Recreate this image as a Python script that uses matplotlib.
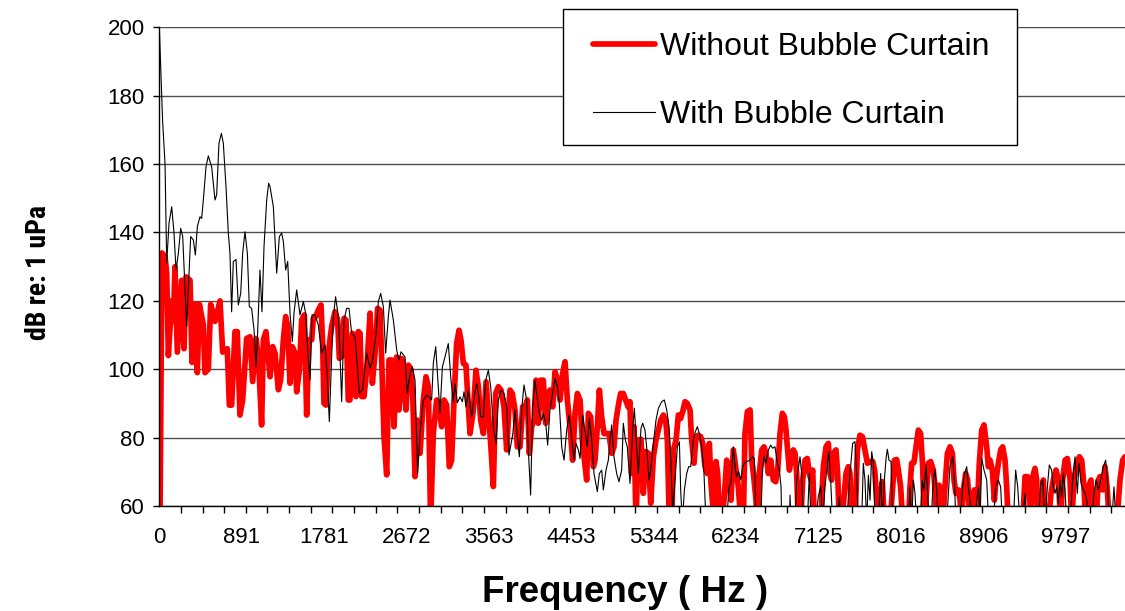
import numpy as np
import matplotlib
matplotlib.use("Agg")
import matplotlib.pyplot as plt
from matplotlib.ticker import MultipleLocator, FixedLocator
from matplotlib.patches import Rectangle

plt.rcParams['font.family'] = ['Liberation Sans', 'DejaVu Sans']

# ---------------- data ----------------
freq_without = [0, 29, 62, 80, 98, 134, 152, 170, 195, 242, 267, 289, 332, 354, 386, 411, 433, 476, 494, 530,
    555, 602, 656, 685, 735, 757, 782, 818, 843, 872, 901, 944, 980, 1009, 1045, 1071, 1106, 1125, 1153,
    1197, 1226, 1251, 1287, 1312, 1341, 1366, 1388, 1413, 1438, 1467, 1485, 1514, 1539, 1568, 1593, 1618,
    1647, 1665, 1690, 1719, 1748, 1766, 1780, 1802, 1827, 1863, 1899, 1928, 1946, 1971, 1997, 2018, 2043,
    2061, 2087, 2108, 2126, 2152, 2170, 2188, 2213, 2242, 2278, 2303, 2332, 2360, 2386, 2404, 2429, 2458,
    2483, 2512, 2537, 2566, 2591, 2620, 2645, 2667, 2692, 2717, 2739, 2764, 2789, 2818, 2854, 2883, 2908,
    2933, 2962, 2998, 3027, 3052, 3078, 3106, 3135, 3160, 3186, 3214, 3240, 3261, 3287, 3315, 3341, 3359,
    3395, 3423, 3449, 3474, 3503, 3532, 3557, 3582, 3611, 3636, 3665, 3694, 3726, 3755, 3780, 3791, 3816,
    3845, 3870, 3899, 3928, 3953, 3979, 4000, 4025, 4051, 4072, 4097, 4123, 4151, 4177, 4202, 4223, 4252,
    4278, 4303, 4332, 4360, 4386, 4411, 4440, 4468, 4494, 4519, 4548, 4573, 4591, 4620, 4638, 4663, 4692,
    4710, 4735, 4757, 4782, 4807, 4836, 4861, 4890, 4915, 4937, 4966, 4987, 5016, 5041, 5067,
    5088, 5106, 5132, 5153, 5178, 5207, 5232, 5261, 5286, 5312, 5341, 5369, 5395, 5420, 5449, 5474, 5492,
    5513, 5539, 5557, 5586, 5611, 5636, 5658, 5683, 5708, 5737, 5755, 5780, 5802, 5827, 5852, 5874, 5899,
    5924, 5946, 5964, 5989, 6018, 6036, 6054, 6079, 6108, 6133, 6158, 6180, 6205, 6234, 6259, 6288, 6313,
    6331, 6357, 6386, 6404, 6422, 6447, 6465, 6486, 6512, 6537, 6558, 6584, 6609, 6638, 6663, 6685, 6710,
    6735, 6757, 6775, 6789, 6811, 6836, 6854, 6872, 6890, 6908, 6933, 6955, 6980, 7005, 7027, 7045, 7063,
    7081, 7149, 7178, 7207, 7232, 7250, 7268, 7286, 7315, 7333, 7351, 7376, 7402, 7423, 7448, 7466, 7484,
    7520, 7546, 7574, 7600, 7628, 7654, 7683, 7712, 7733, 7748, 7773, 7798, 7816, 7838, 7899, 7928, 7946,
    7971, 7989, 8014, 8036, 8097, 8115, 8133, 8158, 8180, 8205, 8230, 8252, 8270, 8295, 8313, 8338, 8367,
    8385, 8403, 8428, 8450, 8468, 8493, 8519, 8547, 8573, 8591, 8612, 8637, 8656, 8673, 8692, 8717, 8738,
    8764, 8789, 8810, 8836, 8864, 8890, 8915, 8944, 8962, 8980, 9005, 9027, 9045, 9070, 9095, 9117, 9142,
    9160, 9178, 9333, 9358, 9383, 9405, 9423, 9441, 9466, 9484, 9502, 9538, 9556, 9574, 9610, 9639, 9664,
    9693, 9719, 9744, 9765, 9791, 9816, 9845, 9863, 9888, 9917, 9946, 9971, 9996, 10014, 10043, 10072,
    10097, 10126, 10151, 10169, 10198, 10223, 10248, 10270, 10349, 10385, 10414, 10439]
db_without = [30, 134, 133, 128, 104, 120, 114, 130, 105, 126, 106, 127, 126, 102, 119, 99, 119, 113, 99, 100,
    119, 114, 120, 105, 106, 89.5, 89.5, 111, 111, 86.6, 91, 109, 109.5, 96.4, 109, 103.7, 83.7, 108.6, 111,
    97.8, 106.6, 104.7, 94, 96.9, 108.6, 115.4, 112.5, 95.9, 106.6, 104.7, 93.4, 99.8, 114.4, 115.9, 86.6, 108.6,
    108.6, 114.9, 115.4, 117.3, 118.8, 107.1, 90, 89.5, 104.7, 112.5, 116.8, 114.4, 103.2, 103.7, 114.9, 114.4, 91,
    91, 110.5, 110, 92, 111, 110.5, 92, 92, 99.8, 116.4, 95.9, 104.7, 117.8, 117.3, 102.7, 80.3, 69.1,
    102.7, 102.7, 83.2, 103.6, 88.1, 103.1, 94.9, 88.1, 101.2, 100.2, 92.9, 68.6, 85.1, 75.4, 91, 97.8, 94.9,
    55, 81.2, 91, 88.1, 83.2, 91, 89.5, 71.5, 73.4, 91, 107.5, 111.4, 108.5, 101.7, 101.2, 89, 81.2,
    88.1, 99.7, 94.9, 85.1, 81.2, 96.3, 87.1, 78.3, 65.7, 92.9, 94.9, 93.9, 89, 76.4, 89, 93.9, 92.9,
    88.1, 77.3, 77.3, 89, 89, 91, 75.4, 83.2, 85.1, 96.8, 84.2, 96.8, 96.8, 84.2, 92.9, 93.9, 89,
    99.3, 96.8, 91, 98.8, 102.2, 91, 83.2, 73.4, 87.1, 92.9, 91, 79.3, 74.4, 67.6, 87.1, 86.1, 71.5,
    73.4, 83.2, 93.9, 86.1, 81.2, 81.2, 81.2, 75.4, 77.3, 85.1, 90, 92.9, 92.9, 91, 89,
    90.5, 69.5, 83.2, 55, 79.3, 79.5, 63.7, 75.9, 75.4, 60.8, 74.4, 79.3, 82.2, 85.1, 86.6, 85.1, 79.3,
    55, 55, 76.4, 79.3, 86.6, 85.6, 87.6, 90.5, 90, 88.1, 79.3, 72.5, 80.3, 80.7, 80.3, 78.3, 71.5,
    69.5, 78.3, 66.6, 58, 73, 69.5, 58, 55, 62.7, 73.4, 69.5, 61.7, 76.4, 70.5, 65.6, 55, 55,
    81.2, 87.6, 88.1, 73.4, 69.5, 62.7, 55, 69.5, 76.4, 77.3, 75.4, 69.5, 73.4, 67.6, 67.1, 70.5, 81.2,
    87.1, 86.1, 82.2, 77.3, 70.5, 74.4, 76.4, 75.4, 69.5, 55, 55, 67.6, 73.4, 73.9, 69.5, 67.6, 70.5,
    55, 55, 71.5, 77.3, 78.3, 69.5, 67.6, 75.4, 76.4, 69.5, 55, 55, 62.7, 69.5, 71.5, 69.5, 55,
    55, 76.4, 80.7, 80.3, 76.4, 72.5, 73, 73, 70.5, 64.7, 55, 63.2, 67.1, 55, 55, 65.6, 73.4,
    73.6, 70.5, 65.6, 55, 55, 65.6, 72.5, 72.7, 77.3, 82.2, 81.2, 71.5, 55, 64.7, 72.5, 73, 70.5,
    65.6, 55, 66.1, 64.7, 55, 65.6, 75.4, 77.3, 75.4, 67.6, 63.7, 64.7, 61.7, 55, 64.7, 69.5, 67.6,
    55, 55, 64.7, 55, 72.5, 82.2, 83.7, 77.3, 71.5, 73.4, 70.5, 61.7, 67.6, 72.5, 76.4, 77.3, 73.4,
    65.6, 55, 55, 68.6, 68.6, 64.7, 55, 68.6, 71, 67.6, 55, 55, 67.6, 55, 55, 63.7, 67.6,
    70.5, 67.6, 55, 67.6, 73.4, 73.9, 67.6, 55, 67.6, 72.5, 74.4, 73.4, 65.6, 55, 65.6, 67.6,
    55, 55, 67.6, 68.6, 64.7, 71.5, 64.7, 55, 55, 67.6, 73.4, 74.4]

freq_with = [0, 36, 62, 80, 105, 134, 159, 181, 206, 231, 253, 296, 339, 368, 390, 411, 440, 458, 476, 505,
    530, 566, 602, 620, 645, 671, 692, 721, 746, 764, 782, 800, 829, 854, 880, 901, 926, 952, 973, 998,
    1024, 1045, 1060, 1088, 1110, 1132, 1161, 1182, 1197, 1233, 1269, 1298, 1323, 1341, 1366, 1388, 1413,
    1438, 1456, 1485, 1521, 1557, 1582, 1604, 1629, 1651, 1683, 1719, 1755, 1791, 1816, 1838, 1863, 1881,
    1906, 1935, 1953, 1971, 1997, 2025, 2051, 2079, 2115, 2141, 2162, 2198, 2224, 2242, 2278, 2306, 2342,
    2368, 2393, 2422, 2447, 2476, 2494, 2530, 2566, 2591, 2613, 2656, 2681, 2710, 2735, 2764, 2793, 2818,
    2854, 2890, 2919, 2944, 2962, 2988, 3016, 3034, 3060, 3088, 3124, 3153, 3178, 3196, 3222, 3251, 3276,
    3294, 3315, 3341, 3377, 3405, 3431, 3449, 3474, 3503, 3528, 3557, 3582, 3611, 3640, 3665, 3694, 3726,
    3755, 3780, 3820, 3845, 3870, 3892, 3917, 3942, 3971, 3989, 4014, 4036, 4061, 4087, 4108, 4133, 4151,
    4177, 4198, 4223, 4249, 4278, 4303, 4324, 4350, 4375, 4404, 4429, 4454, 4483, 4505, 4530, 4548, 4577,
    4602, 4627, 4649, 4674, 4699, 4735, 4757, 4782, 4800, 4829, 4854, 4872, 4890, 4915, 4944, 4969, 4998,
    5016, 5038, 5059, 5088, 5117, 5135, 5160, 5178, 5207, 5225, 5250, 5268, 5294, 5312, 5341, 5369, 5395,
    5431, 5459, 5485, 5510, 5528, 5550, 5575, 5600, 5622, 5636, 5654, 5676, 5701, 5722, 5744, 5773, 5794,
    5816, 5838, 5863, 5888, 5910, 6133, 6158, 6180, 6205, 6227, 6241, 6263, 6285, 6306, 6324, 6349, 6386,
    6414, 6432, 6450, 6501, 6519, 6537, 6558, 6584, 6609, 6630, 6656, 6681, 6703, 6721, 6728, 6811, 6818,
    6829, 6872, 6890, 6926, 6944, 6962, 7005, 7027, 7045, 7088, 7124, 7149, 7171, 7196, 7214, 7236, 7257,
    7279, 7329, 7351, 7366, 7430, 7466, 7495, 7520, 7538, 7556, 7592, 7610, 7628, 7647, 7665, 7683, 7701,
    7719, 7737, 7773, 7798, 7816, 7838, 7856, 7870, 7888, 7910, 7928, 8097, 8115, 8133, 8151, 8169, 8187,
    8223, 8248, 8266, 8288, 8302, 8324, 8342, 8367, 8385, 8403, 8421, 8511, 8547, 8576, 8594, 8612, 8656,
    8684, 8706, 8728, 8746, 8764, 8785, 8818, 8836, 8857, 8872, 8890, 8915, 8944, 8965, 9016, 9041, 9070,
    9095, 9113, 9232, 9257, 9279, 9304, 9329, 9358, 9376, 9502, 9528, 9549, 9574, 9600, 9621, 9646, 9664,
    9682, 9700, 9719, 9737, 9755, 9773, 9791, 9809, 9845, 9873, 9899, 9924, 9942, 9964, 9989, 10007, 10025,
    10050, 10079, 10104, 10126, 10151, 10176, 10205, 10230, 10248, 10270, 10295, 10320, 10342, 10439]
db_with = [200, 172.4, 160, 131, 142.7, 147.5, 139.8, 129, 133.9, 141.2, 138.8, 112.5, 138.8, 137.8, 133.4, 141.7,
    144.6, 144.1, 149.5, 159.2, 162.4, 159.2, 149.5, 151, 166.1, 169, 166.1, 153.4, 139.8, 133.9, 116.8, 131.5,
    132.1, 118.8, 122.2, 133.9, 140.2, 133.9, 118.3, 117.8, 111.5, 100.8, 108.6, 129, 116.8, 135.9, 149.5, 154.4,
    153.4, 147.5, 128.1, 138.8, 139.8, 137.3, 129, 131.5, 116.4, 108.1, 116.4, 123.2, 115.9, 119.8, 116.4, 105.6,
    96.9, 115.9, 115.9, 112.9, 104.7, 107.1, 97.8, 84.7, 103.7, 115.4, 121.2, 115.4, 104.7, 90.5, 114.4, 117.8,
    117.8, 110.5, 109.5, 100.8, 93, 94, 100.8, 104.7, 100.3, 102.7, 110, 119.8, 122.2, 118.3, 104.7, 115.4,
    120.2, 114.4, 105.6, 102.7, 105.1, 103.6, 92.9, 98.8, 100.7, 96.8, 69.5, 81.2, 91, 92.4, 91.9, 91, 101.7,
    106.6, 94.9, 87.1, 100.7, 103.6, 107.5, 96.8, 90.5, 95.8, 90.2, 91.9, 90.5, 93.4, 89, 93.9, 86.1, 92.4,
    95.8, 92.9, 86.1, 86.1, 96.8, 99.7, 94.9, 83.2, 78.3, 91, 93.9, 92.9, 89, 74.9, 80.8, 88.1, 80.3, 74.4,
    88.1, 95.4, 91, 76.4, 63.2, 89, 96.8, 91, 87.1, 85.1, 87.1, 84.2, 77.8, 88.1, 92.5, 97.3, 94.9, 90,
    77.3, 73.4, 82.2, 86.6, 81.2, 73.4, 78.3, 76.4, 73.9, 86.6, 81.7, 77.3, 85.6, 79.3, 69.5, 64.2, 69.5,
    70.5, 64.7, 70.5, 73.4, 79.3, 83.7, 74.4, 69.5, 67.1, 70.5, 84.2, 79.3, 77.3, 66.6, 82.2, 88.6, 77.3,
    69.5, 82.7, 84.2, 82.2, 77.3, 67.6, 70.5, 78.3, 85.1, 88.6, 90.5, 91, 88.1, 83.2, 74.4, 58, 67.6, 77.3,
    78.8, 64.7, 55, 64.7, 69.5, 71.5, 71.5, 79.3, 81.7, 83.2, 81.2, 77.3, 69.5, 55, 55, 65.6, 66.6, 77.3,
    70.5, 68.6, 70, 67.6, 71.5, 72.5, 73, 73.4, 74.4, 73.9, 55, 55, 69.5, 74.4, 72.5, 76.4, 77.8, 76.9,
    77.3, 72.5, 70.5, 65.6, 55, 55, 63.2, 55, 55, 67.6, 74.4, 69.5, 55, 55, 69.5, 55, 55, 62.7, 65.8,
    55, 65.6, 70.5, 75.9, 67.6, 55, 55, 62.7, 55, 55, 69.5, 78.3, 78.8, 69.5, 55, 55, 72.5, 67.6, 55,
    69, 61.7, 75.9, 72.5, 55, 55, 69.5, 55, 67.6, 73.9, 76.6, 73.4, 73, 55, 55, 65.6, 55, 67.6, 63.7,
    55, 55, 67.6, 64.7, 72, 65.6, 55, 55, 67.6, 70.5, 64.7, 55, 55, 71.5, 74.4, 67.6, 55, 55, 65.6,
    69.5, 71.5, 65.6, 61.7, 55, 55, 61.7, 65.6, 55, 73.9, 70.5, 67.6, 55, 55, 65.6, 67.6, 65.6, 55,
    55, 70.5, 65.6, 55, 55, 63.7, 55, 55, 66.6, 67.6, 55, 65.6, 72, 70.5, 65.6, 63.7, 65.6, 60.7,
    67.6, 62.7, 69.5, 64.7, 55, 55, 67.6, 74.4, 63.7, 72.5, 66.6, 64.7, 63.7, 61.7, 55, 55, 63.7, 67.6,
    64.7, 67.6, 71.5, 73.4, 67.6, 55, 55, 65.6, 55, 55]

xtick_values = [0, 890.625, 1781.25, 2671.875, 3562.5, 4453.125, 5343.75, 6234.375, 7125,
                8015.625, 8906.25, 9796.875]
xtick_labels = ['0', '891', '1781', '2672', '3563', '4453', '5344', '6234', '7125', '8016', '8906', '9797']
ytick_values = [60, 80, 100, 120, 140, 160, 180, 200]
series_names = ['Without Bubble Curtain', 'With Bubble Curtain']

# ---------------- figure ----------------
W, H = 1125, 611
fig = plt.figure(figsize=(W / 100, H / 100), dpi=100)
ax_left, ax_top, ax_bottom = 159.3, 27.3, 506.0
ax = fig.add_axes([ax_left / W, 1 - ax_bottom / H, 1 - ax_left / W, (ax_bottom - ax_top) / H])

l1, = ax.plot(freq_without, db_without, color='#ff0000', lw=4.1, solid_joinstyle='round',
              solid_capstyle='round', zorder=3, label=series_names[0])
l2, = ax.plot(freq_with, db_with, color='#000000', lw=0.8, zorder=4, label=series_names[1])

ax.set_xlim(0, 10439)
ax.set_ylim(60, 200)
ax.yaxis.set_major_locator(FixedLocator(ytick_values))
ax.xaxis.set_major_locator(FixedLocator(xtick_values))
ax.set_xticklabels(xtick_labels)
ax.xaxis.set_minor_locator(MultipleLocator(233.9))
ax.grid(axis='y', color='#4d4d4d', lw=1.0, zorder=1)
ax.set_axisbelow(True)

for s in ['top', 'right']:
    ax.spines[s].set_visible(False)
for s in ['left', 'bottom']:
    ax.spines[s].set_color('black')
    ax.spines[s].set_linewidth(1.0)
    ax.spines[s].set_zorder(5)

ax.tick_params(axis='y', which='major', direction='out', length=4, width=1, pad=6.5,
               labelsize=16, color='black')
ax.tick_params(axis='x', which='major', length=0, pad=15, labelsize=16)
ax.tick_params(axis='x', which='minor', direction='out', length=5, width=1, color='black')

ax.set_xlabel('Frequency ( Hz )', fontsize=26.5, fontweight='bold', va='center')
ax.xaxis.set_label_coords((625 - ax_left) / (W - ax_left), (ax_bottom - 593) / (ax_bottom - ax_top))
ax.set_ylabel('dB re: 1 uPa', fontsize=20, fontweight='bold', va='center',
              family=['Roboto Condensed', 'Open Sans Condensed', 'Liberation Sans Narrow', 'Liberation Sans'],
              fontstretch='condensed')
ax.yaxis.set_label_coords((38 - ax_left) / (W - ax_left), (ax_bottom - 273) / (ax_bottom - ax_top))

# legend frame and legend
fig.add_artist(Rectangle((563 / W, 1 - 145 / H), (1017 - 563) / W, (145 - 9) / H,
                         transform=fig.transFigure, facecolor='white', edgecolor='black',
                         lw=1.0, zorder=10))
leg = fig.legend(handles=[l1, l2], loc='upper left', bbox_to_anchor=(593 / W, 1 - 32 / H),
                 frameon=False, fontsize=23, handlelength=1.95, handletextpad=0.15,
                 labelspacing=1.19, borderpad=0, borderaxespad=0)
leg.set_zorder(11)

fig.savefig('out.png', dpi=100)
